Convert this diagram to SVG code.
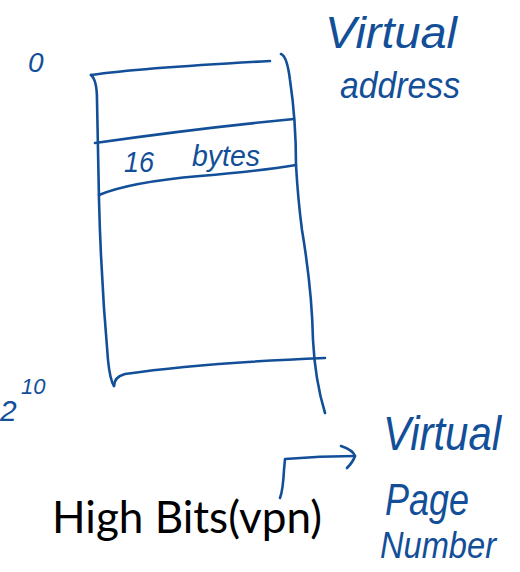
<svg xmlns="http://www.w3.org/2000/svg" width="520" height="572" viewBox="0 0 520 572">
  <style>
    .ink { fill: none; stroke: #124f98; stroke-width: 2.6; stroke-linecap: round; stroke-linejoin: round; }
    .hand { fill: #124f98; font-family: "Liberation Sans", "DejaVu Sans", sans-serif; font-style: italic; }
    .typed { fill: #000; font-family: "Lato", "Liberation Sans", sans-serif; }
  </style>
  <defs>
    <marker id="head" viewBox="0 0 20 30" refX="16" refY="12" markerWidth="20" markerHeight="30" markerUnits="userSpaceOnUse" orient="0">
      <path d="M 2 2 Q 14 6 16 12 Q 14 18 8 24" fill="none" stroke="#124f98" stroke-width="2.6" stroke-linecap="round"/>
    </marker>
  </defs>

  <!-- address space block -->
  <g id="memory">
    <path class="ink" d="M 91 75 Q 140 68 270 61"/>
    <path class="ink" d="M 91 75 Q 97 80 97 100 L 99 200 Q 101 280 108 360 Q 110 380 114 386"/>
    <path class="ink" d="M 281 54 Q 287 56 290 80 Q 296 120 296 165 Q 298 200 302 230 Q 312 290 313 340 Q 315 380 325 413"/>
    <path class="ink" d="M 95 143 Q 200 128 294 119"/>
    <path class="ink" d="M 99 195 Q 130 182 200 176 Q 260 171 296 165"/>
    <path class="ink" d="M 114 386 Q 114 377 125 374 Q 200 363 325 358"/>
  </g>

  <g id="row">
    <text class="hand" x="124" y="172" font-size="30" textLength="30" lengthAdjust="spacingAndGlyphs">16</text>
    <text class="hand" x="192" y="166" font-size="30" textLength="68" lengthAdjust="spacingAndGlyphs">bytes</text>
  </g>

  <g id="labels">
    <text class="hand" x="28" y="72" font-size="28">0</text>
    <text class="hand" x="325" y="48" font-size="44" textLength="132" lengthAdjust="spacingAndGlyphs">Virtual</text>
    <text class="hand" x="340" y="98" font-size="36" textLength="120" lengthAdjust="spacingAndGlyphs">address</text>
    <text class="hand" x="0" y="421" font-size="30">2</text>
    <text class="hand" x="21" y="394" font-size="22">10</text>
    <text class="hand" x="383" y="450" font-size="48" textLength="118" lengthAdjust="spacingAndGlyphs">Virtual</text>
    <text class="hand" x="385" y="515" font-size="44" textLength="84" lengthAdjust="spacingAndGlyphs">Page</text>
    <text class="hand" x="380" y="558" font-size="36" textLength="116" lengthAdjust="spacingAndGlyphs">Number</text>
  </g>

  <g id="vpn">
    <text class="typed" x="52" y="533" font-size="45" textLength="270" lengthAdjust="spacingAndGlyphs">High Bits(vpn)</text>
  </g>

  <g id="connectors">
    <path class="ink" d="M 280 498 Q 283 490 284 470 L 285 459 Q 320 456 355 456" marker-end="url(#head)"/>
  </g>
</svg>
